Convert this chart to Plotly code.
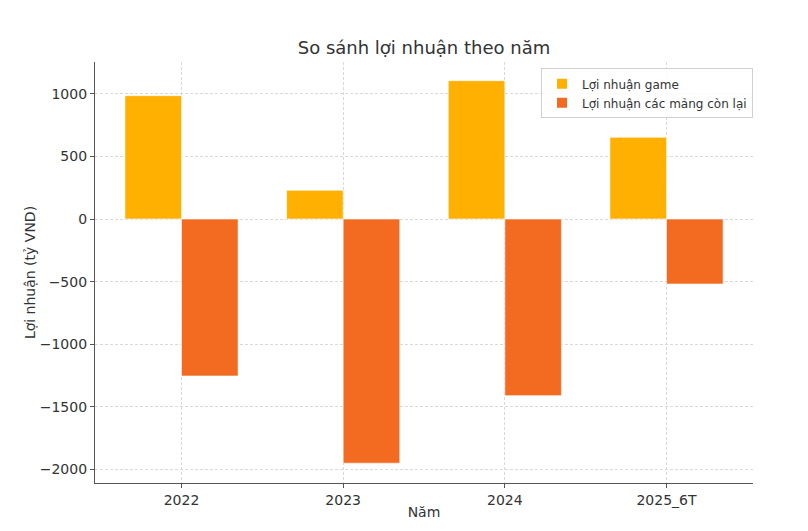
import plotly.graph_objects as go

years = ["2022", "2023", "2024", "2025_6T"]
game_profit = [984, 229, 1104, 652]
other_profit = [-1253, -1949, -1410, -519]
series_names = ["Lợi nhuận game", "Lợi nhuận các mảng còn lại"]
y_ticks = [-2000, -1500, -1000, -500, 0, 500, 1000]

x_idx = list(range(len(years)))
bar_w = 0.35

fig = go.Figure()
fig.add_trace(go.Bar(x=x_idx, y=game_profit, name=series_names[0],
                     width=bar_w, offset=-bar_w,
                     marker=dict(color="#FFB000", line=dict(color="white", width=0.6))))
fig.add_trace(go.Bar(x=x_idx, y=other_profit, name=series_names[1],
                     width=bar_w, offset=0,
                     marker=dict(color="#F26B21", line=dict(color="white", width=0.6))))

H = 531
fig.update_layout(
    width=808, height=531,
    barmode="overlay",
    paper_bgcolor="white", plot_bgcolor="white",
    margin=dict(l=87, r=63, t=54, b=56),
    font=dict(family="DejaVu Sans", color="#333333", size=13),
    title=dict(text="So sánh lợi nhuận theo năm", x=(424 - 8) / 808, xanchor="center",
               y=1 - (48 - 8) / H, yanchor="middle",
               font=dict(size=18, color="#333333")),
    legend=dict(x=1.0, y=0.985, xanchor="right", yanchor="top",
                bgcolor="rgba(255,255,255,0.85)", bordercolor="#d0d0d0", borderwidth=1,
                font=dict(size=12, color="#333333"), tracegroupgap=0,
                itemsizing="constant"),
    showlegend=True,
)
fig.update_xaxes(
    range=[-0.535, 3.535],
    tickmode="array", tickvals=x_idx, ticktext=years,
    showgrid=True, gridcolor="#d9d9d9", griddash="3px,2px", gridwidth=1,
    showline=True, linecolor="#555555", linewidth=1.2,
    ticks="outside", ticklen=4, tickcolor="#555555",
    zeroline=False,
    title=dict(text="Năm", font=dict(size=14, color="#333333"), standoff=0),
    tickfont=dict(size=14, color="#333333"),
)
fig.update_yaxes(
    range=[-2107, 1253],
    tickmode="array", tickvals=y_ticks, ticktext=[str(v).replace("-", "−") for v in y_ticks],
    showgrid=True, gridcolor="#d9d9d9", griddash="3px,2px", gridwidth=1,
    showline=True, linecolor="#555555", linewidth=1.2,
    ticks="outside", ticklen=4, tickcolor="#555555",
    zeroline=False,
    title=dict(text="Lợi nhuận (tỷ VND)", font=dict(size=14, color="#333333"), standoff=0),
    tickfont=dict(size=14, color="#333333"),
)

fig.write_html("out.html")
